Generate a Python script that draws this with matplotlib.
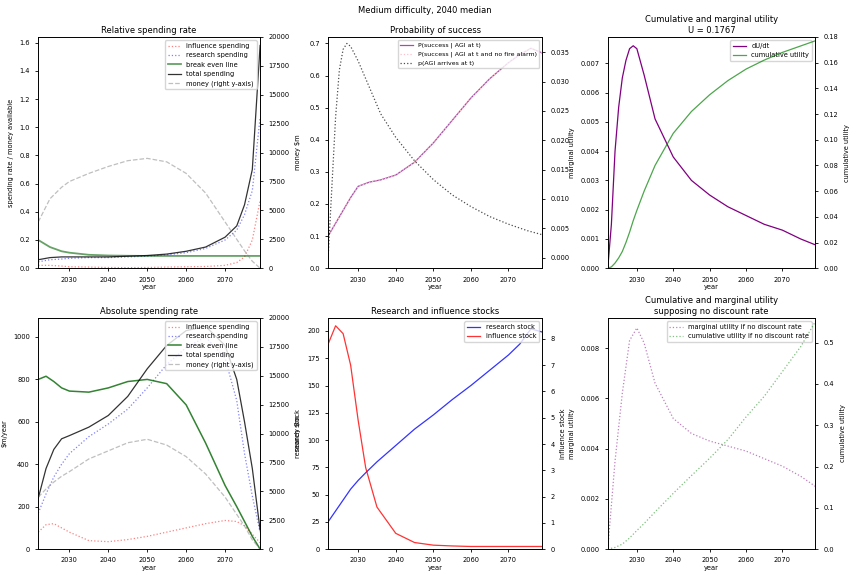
import matplotlib
matplotlib.use("Agg")
import matplotlib.pyplot as plt

plt.rcParams['font.size'] = 4.8
plt.rcParams['lines.linewidth'] = 0.9
plt.rcParams['axes.linewidth'] = 0.6
plt.rcParams['xtick.major.width'] = 0.6
plt.rcParams['ytick.major.width'] = 0.6
plt.rcParams['xtick.major.size'] = 2.5
plt.rcParams['ytick.major.size'] = 2.5

# --- relative spending (top left)
yr1 = [2022, 2025, 2028, 2030, 2035, 2040, 2045, 2050, 2055, 2060, 2065, 2070, 2073, 2075, 2077, 2079]
rel_total = [.06, .075, .08, .08, .08, .08, .085, .09, .1, .12, .15, .22, .3, .45, .7, 1.58]
rel_research = [.045, .06, .065, .07, .075, .075, .08, .085, .095, .11, .14, .2, .27, .38, .55, 1.07]
rel_influence = [.02, .02, .015, .01, .008, .005, .004, .005, .008, .01, .012, .02, .04, .08, .2, .48]
rel_breakeven = [.2, .15, .12, .11, .095, .09, .088, .087, .087, .087, .087, .087, .087, .087, .087, .087]
money1 = [4000, 6000, 7000, 7500, 8200, 8800, 9300, 9500, 9200, 8200, 6500, 4000, 2500, 1500, 600, 0]

# --- absolute spending (bottom left)
yr4 = [2022, 2024, 2026, 2028, 2030, 2035, 2040, 2045, 2050, 2055, 2060, 2065, 2070, 2073, 2075, 2077, 2079]
abs_total = [240, 380, 470, 520, 535, 575, 630, 720, 850, 960, 1030, 1050, 960, 800, 600, 380, 90]
abs_research = [170, 260, 340, 400, 450, 530, 590, 660, 760, 870, 950, 1000, 900, 700, 450, 250, 80]
abs_influence = [80, 115, 120, 100, 80, 40, 35, 45, 60, 80, 100, 120, 135, 130, 110, 70, 30]
abs_breakeven = [800, 815, 790, 760, 745, 740, 760, 790, 800, 780, 680, 500, 300, 200, 130, 60, 0]
money4 = [4500, 5200, 5800, 6300, 6700, 7800, 8500, 9200, 9500, 9000, 8000, 6500, 4500, 3000, 2000, 800, 0]

# --- probability of success (top middle)
yr2 = [2022, 2024, 2026, 2028, 2030, 2033, 2036, 2040, 2045, 2050, 2055, 2060, 2065, 2070, 2073, 2076, 2079]
p_success = [.1, .14, .18, .22, .255, .268, .275, .29, .33, .39, .46, .53, .59, .64, .665, .685, .67]
yr2b = [2022, 2023, 2024, 2025, 2026, 2027, 2028, 2030, 2033, 2036, 2040, 2045, 2050, 2055, 2060, 2065, 2070, 2075, 2079]
p_agi = [0.0, .012, .024, .032, .0355, .0365, .036, .0335, .029, .0245, .0205, .0165, .0133, .0107, .0087, .0070, .0057, .0046, .0039]

# --- utility (top right)
yr3 = [2022, 2023, 2024, 2025, 2026, 2027, 2028, 2029, 2030, 2032, 2035, 2040, 2045, 2050, 2055, 2060, 2065, 2070, 2075, 2079]
dudt = [0, .0015, .004, .0055, .0065, .0071, .0075, .0076, .0075, .0066, .0051, .0038, .003, .0025, .0021, .0018, .0015, .0013, .001, .0008]
cum_u = [0, .001, .004, .008, .013, .02, .028, .037, .045, .06, .08, .105, .122, .135, .146, .155, .162, .168, .173, .177]

# --- stocks (bottom middle)
yr5 = [2022, 2024, 2026, 2028, 2030, 2032, 2035, 2040, 2045, 2050, 2055, 2060, 2065, 2070, 2073, 2076, 2079]
research_stock = [25, 35, 45, 55, 63, 70, 80, 95, 110, 123, 137, 150, 164, 178, 188, 202, 199]
influence_stock = [7.8, 8.5, 8.2, 7.0, 4.9, 3.1, 1.6, 0.6, 0.25, 0.15, 0.12, 0.1, 0.1, 0.1, 0.1, 0.1, 0.1]

# --- no discount (bottom right)
yr6 = [2022, 2024, 2026, 2028, 2030, 2032, 2035, 2040, 2045, 2050, 2055, 2060, 2065, 2070, 2075, 2079]
marg_nd = [0, .0035, .0062, .0083, .0088, .0082, .0066, .0052, .0046, .0043, .0041, .0039, .0036, .0033, .0029, .0025]
cum_nd = [0, .004, .012, .027, .045, .062, .09, .135, .178, .22, .265, .32, .37, .43, .49, .55]

fig = plt.figure(figsize=(8.5, 5.78), dpi=100)
fig.suptitle("Medium difficulty, 2040 median", fontsize=6, y=0.99)
cols = [(0.045, 0.261), (0.386, 0.252), (0.715, 0.244)]
rows = [0.536, 0.05]
XL = (2022, 2079)
TS = 6

def mk(r, c):
    ax = fig.add_axes([cols[c][0], rows[r], cols[c][1], 0.4])
    ax.set_xlim(*XL)
    ax.set_xticks([2030, 2040, 2050, 2060, 2070])
    ax.set_xlabel("year", labelpad=1)
    return ax

# top left
ax = mk(0, 0)
ax.set_title("Relative spending rate", fontsize=TS, pad=3)
ax.plot(yr1, rel_influence, ':', color='red', alpha=0.5, label='influence spending')
ax.plot(yr1, rel_research, ':', color='blue', alpha=0.5, label='research spending')
ax.plot(yr1, rel_breakeven, '-', color='darkgreen', alpha=0.6, lw=1.3, label='break even line')
ax.plot(yr1, rel_total, '-', color='black', alpha=0.8, label='total spending')
ax.plot([], [], '--', color='grey', alpha=0.5, label='money (right y-axis)')
ax.set_ylim(0, 1.64)
ax.set_ylabel("spending rate / money available")
ax.legend(loc='upper right', fontsize=4.8)
tw = ax.twinx()
tw.plot(yr1, money1, '--', color='grey', alpha=0.5)
tw.set_ylim(0, 20000)
tw.set_ylabel("money $m")

# bottom left
ax = mk(1, 0)
ax.set_title("Absolute spending rate", fontsize=TS, pad=3)
ax.plot(yr4, abs_influence, ':', color='red', alpha=0.5, label='influence spending')
ax.plot(yr4, abs_research, ':', color='blue', alpha=0.5, label='research spending')
ax.plot(yr4, abs_breakeven, '-', color='darkgreen', alpha=0.8, lw=1.1, label='break even line')
ax.plot(yr4, abs_total, '-', color='black', alpha=0.8, label='total spending')
ax.plot([], [], '--', color='grey', alpha=0.5, label='money (right y-axis)')
ax.set_ylim(0, 1090)
ax.set_ylabel("spending rate\n$m/year")
ax.legend(loc='upper right', fontsize=4.8)
tw = ax.twinx()
tw.plot(yr4, money4, '--', color='grey', alpha=0.5)
tw.set_ylim(0, 20000)
tw.set_ylabel("money $m")

# top middle
ax = mk(0, 1)
ax.set_title("Probability of success", fontsize=TS, pad=3)
ax.plot(yr2, p_success, '-', color='purple', alpha=0.7, label='P(success | AGI at t)')
ax.plot(yr2, p_success, ':', color='pink', label='P(success | AGI at t and no fire alarm)')
ax.plot([], [], ':', color='black', alpha=0.7, label='p(AGI arrives at t)')
ax.set_ylim(0, 0.72)
ax.legend(loc='upper right', fontsize=4.5)
tw = ax.twinx()
tw.plot(yr2b, p_agi, ':', color='black', alpha=0.7)
tw.set_ylim(-0.0018, 0.0376)

# top right
ax = mk(0, 2)
ax.set_title("Cumulative and marginal utility\nU = 0.1767", fontsize=TS, pad=3)
ax.plot(yr3, dudt, '-', color='purple', label='dU/dt')
ax.plot([], [], '-', color='green', alpha=0.7, label='cumulative utility')
ax.set_ylim(0, 0.0079)
ax.set_ylabel("marginal utility")
ax.legend(loc='upper right', fontsize=4.8)
tw = ax.twinx()
tw.plot(yr3, cum_u, '-', color='green', alpha=0.7)
tw.set_ylim(0, 0.18)
tw.set_ylabel("cumulative utility")

# bottom middle
ax = mk(1, 1)
ax.set_title("Research and influence stocks", fontsize=TS, pad=3)
ax.plot(yr5, research_stock, '-', color='blue', alpha=0.8, label='research stock')
ax.plot([], [], '-', color='red', alpha=0.8, label='influence stock')
ax.set_ylim(0, 212)
ax.set_ylabel("research stock")
ax.legend(loc='upper right', fontsize=4.8)
tw = ax.twinx()
tw.plot(yr5, influence_stock, '-', color='red', alpha=0.8)
tw.set_ylim(0, 8.8)
tw.set_ylabel("influence stock")

# bottom right
ax = mk(1, 2)
ax.set_title("Cumulative and marginal utility\nsupposing no discount rate", fontsize=TS, pad=3)
ax.plot(yr6, marg_nd, ':', color='purple', alpha=0.5, label='marginal utility if no discount rate')
ax.plot([], [], ':', color='green', alpha=0.5, label='cumulative utility if no discount rate')
ax.set_ylim(0, 0.0092)
ax.set_ylabel("marginal utility")
ax.legend(loc='upper right', fontsize=4.8)
tw = ax.twinx()
tw.plot(yr6, cum_nd, ':', color='green', alpha=0.5)
tw.set_ylim(0, 0.56)
tw.set_ylabel("cumulative utility")

fig.savefig("out.png", dpi=100)
